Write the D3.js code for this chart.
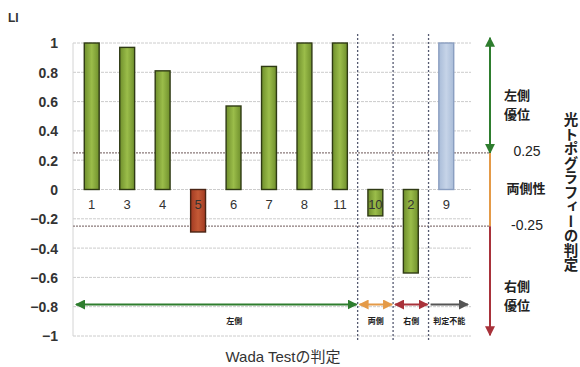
<!DOCTYPE html>
<html><head><meta charset="utf-8">
<script src="https://cdn.jsdelivr.net/npm/d3@7"></script>
<style>
html,body{margin:0;padding:0;background:#fff;}
svg{display:block;}
</style></head>
<body>
<svg id="c" width="580" height="367"></svg>
<script>
// ---- data ----
const categories = ["1","3","4","5","6","7","8","11","10","2","9"];
const liValues   = [1.0, 0.97, 0.81, -0.29, 0.57, 0.84, 1.0, 1.0, -0.18, -0.57, 1.0];
const barKinds   = ["g","g","g","r","g","g","g","g","g","g","b"];
const yTicks     = [1, 0.8, 0.6, 0.4, 0.2, 0, -0.2, -0.4, -0.6, -0.8, -1];
const wadaGroups = ["左側", "両側", "右側", "判定不能"];
const wadaStart  = [0, 8, 9, 10];   // first category index of each group
const wadaEnd    = [8, 9, 10, 11];  // end (exclusive)
const thresholds = [0.25, -0.25];
const topoLabels = ["左側\n優位", "0.25", "両側性", "-0.25", "右側\n優位"];
const topoLabelValues = [0.577, 0.26, 0.01, -0.24, -0.727];

const svg = d3.select("#c");
const defs = svg.append("defs");
function grad(id, c1, c2){
  const g = defs.append("linearGradient").attr("id", id).attr("x1","0").attr("x2","1").attr("y1","0").attr("y2","0");
  g.append("stop").attr("offset","0%").attr("stop-color", c1);
  g.append("stop").attr("offset","50%").attr("stop-color", c2);
  g.append("stop").attr("offset","100%").attr("stop-color", c1);
}
grad("gG", "#6f8f2c", "#9bbd4a");
grad("gR", "#a23a22", "#c45a36");
grad("gB", "#a9bcd8", "#c6d4e8");
const fills = {g:"url(#gG)", r:"url(#gR)", b:"url(#gB)"};
const strokes = {g:"#2f3a14", r:"#4a2414", b:"#8a9ec0"};

const x = d3.scaleBand().domain(categories).range([74, 464]).paddingInner(0.58).paddingOuter(0.29);
const y = d3.scaleLinear().domain([-1, 1]).range([336, 43]);
const plotL = 73, plotR = 471;
const step = x.step();

// gridlines
svg.append("g").selectAll("line").data(yTicks).join("line")
  .attr("x1", plotL).attr("x2", plotR)
  .attr("y1", d => y(d)).attr("y2", d => y(d))
  .attr("stroke", "#cccccc").attr("stroke-width", 1).attr("stroke-dasharray", "3,1");
// left axis line
svg.append("line").attr("x1", plotL).attr("x2", plotL).attr("y1", y(1)).attr("y2", y(-1))
  .attr("stroke", "#d4d4d4");

// y axis labels
const yAxis = d3.axisLeft(y).tickValues(yTicks).tickSize(0).tickPadding(0)
  .tickFormat(d => d3.format("")(Math.round(d*10)/10));
const ya = svg.append("g").attr("transform", "translate(58,0)").call(yAxis);
ya.select(".domain").remove();
ya.selectAll("text").attr("font-family", "Liberation Sans, Arial, sans-serif")
  .attr("font-size", 14).attr("font-weight", "bold").attr("fill", "#333").attr("dy", "0.35em");

// threshold lines
svg.append("g").selectAll("line").data(thresholds).join("line")
  .attr("x1", plotL).attr("x2", 490)
  .attr("y1", d => y(d)).attr("y2", d => y(d))
  .attr("stroke", "#8a7a7a").attr("stroke-width", 1.3).attr("stroke-dasharray", "2,1");

// bars
svg.append("g").selectAll("rect").data(categories).join("rect")
  .attr("x", d => x(d))
  .attr("width", x.bandwidth())
  .attr("y", (d,i) => y(Math.max(0, liValues[i])))
  .attr("height", (d,i) => Math.abs(y(liValues[i]) - y(0)))
  .attr("fill", (d,i) => fills[barKinds[i]])
  .attr("stroke", (d,i) => strokes[barKinds[i]])
  .attr("stroke-width", 1.4);

// category labels
svg.append("g").selectAll("text").data(categories).join("text")
  .attr("x", d => x(d) + x.bandwidth()/2)
  .attr("y", y(0) + 19)
  .attr("text-anchor", "middle")
  .attr("font-family", "Liberation Sans, Arial, sans-serif")
  .attr("font-size", 13).attr("fill", "#333")
  .text(d => d);

// vertical group separators
const sepX = wadaStart.slice(1).map(i => x(categories[i]) - (step - x.bandwidth())/2);
svg.append("g").selectAll("line").data(sepX).join("line")
  .attr("x1", d => d).attr("x2", d => d)
  .attr("y1", 34).attr("y2", 340)
  .attr("stroke", "#555a70").attr("stroke-width", 1.3).attr("stroke-dasharray", "2,2");

// arrow markers
const arrowColors = {green:"#2e7d2e", orange:"#e49a48", red:"#a8323a", gray:"#555"};
Object.entries(arrowColors).forEach(([k,c]) => {
  defs.append("marker").attr("id", "ae-"+k).attr("viewBox","0 0 10 10").attr("refX", 9).attr("refY", 5)
    .attr("markerWidth", 5).attr("markerHeight", 5).attr("orient","auto-start-reverse")
    .append("path").attr("d","M0,0L10,5L0,10z").attr("fill", c);
});
const grpColors = ["green","orange","red","gray"];
const arrowY = y(-0.785);
const gx0 = i => wadaStart[i] === 0 ? 76 : sepX[i-1] + 2;
const gx1 = i => wadaEnd[i] === categories.length ? 468 : sepX[i] - 1;
svg.append("g").selectAll("line").data(wadaGroups).join("line")
  .attr("x1", (d,i) => gx0(i)).attr("x2", (d,i) => gx1(i))
  .attr("y1", arrowY).attr("y2", arrowY)
  .attr("stroke", (d,i) => arrowColors[grpColors[i]]).attr("stroke-width", 2)
  .attr("marker-start", (d,i) => i < 3 ? "url(#ae-"+grpColors[i]+")" : null)
  .attr("marker-end", (d,i) => "url(#ae-"+grpColors[i]+")");
svg.append("g").selectAll("text").data(wadaGroups).join("text")
  .attr("x", (d,i) => (gx0(i) + gx1(i))/2 + (i===0 ? 18 : 0))
  .attr("y", arrowY + 19)
  .attr("text-anchor", "middle")
  .attr("font-family", "Noto Sans CJK JP, sans-serif")
  .attr("font-size", 8).attr("font-weight", "bold").attr("fill", "#222")
  .text(d => d);

// right vertical arrow
const rx = 490;
const segs = [[1.035, 0.25, "green", true, false], [0.25, -0.25, "orange", false, false], [-0.25, -0.995, "red", false, true]];
svg.append("g").selectAll("line").data(segs).join("line")
  .attr("x1", rx).attr("x2", rx)
  .attr("y1", d => y(d[0])).attr("y2", d => y(d[1]))
  .attr("stroke", d => arrowColors[d[2]]).attr("stroke-width", 2)
  .attr("marker-start", d => d[3] ? "url(#ae-"+d[2]+")" : null)
  .attr("marker-end", d => (d[2]==="green" || d[4]) ? "url(#ae-"+d[2]+")" : null);

// right labels (each line its own text element)
const rl = svg.append("g");
topoLabels.forEach((t, i) => {
  const lines = t.split("\n");
  const isNum = /^-?[0-9.]+$/.test(t);
  const cx = isNum ? 527 : (lines.length > 1 ? 517 : 526);
  const lh = 19;
  lines.forEach((ln, j) => {
    rl.append("text")
      .attr("x", cx)
      .attr("y", y(topoLabelValues[i]) + (j - (lines.length-1)/2) * lh)
      .attr("dy", "0.35em")
      .attr("text-anchor", "middle")
      .attr("font-family", isNum ? "Liberation Sans, Arial, sans-serif" : "Noto Sans CJK JP, sans-serif")
      .attr("font-size", isNum ? 14 : 13)
      .attr("font-weight", isNum ? "normal" : "bold")
      .attr("fill", "#222")
      .text(ln);
  });
});

// vertical title
const vt = "光トポグラフィーの判定";
svg.append("text")
  .attr("x", 571).attr("y", 192)
  .attr("text-anchor", "middle")
  .attr("font-family", "Noto Sans CJK JP, sans-serif")
  .attr("font-size", 14.5).attr("font-weight", "bold").attr("fill", "#222")
  .attr("writing-mode", "vertical-rl")
  .attr("dominant-baseline", "central")
  .text(vt);

// axis titles
svg.append("text").attr("x", 8).attr("y", 22)
  .attr("font-family", "Liberation Sans, Arial, sans-serif").attr("font-size", 12).attr("font-weight", "bold")
  .attr("fill", "#333").text("LI");
svg.append("text").attr("x", 283).attr("y", 362).attr("text-anchor", "middle")
  .attr("font-family", "Liberation Sans, Noto Sans CJK JP, sans-serif").attr("font-size", 15)
  .attr("fill", "#333").text("Wada Testの判定");
</script>
</body></html>
